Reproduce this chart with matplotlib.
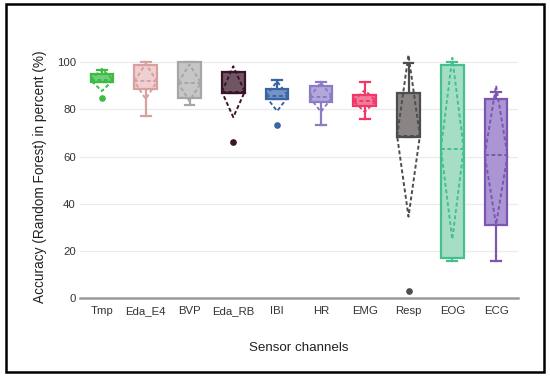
import numpy as np
import matplotlib
matplotlib.use("Agg")
import matplotlib.pyplot as plt
from matplotlib.patches import Rectangle

plt.rcParams['font.family'] = ['Liberation Sans', 'DejaVu Sans']

channels = ['Tmp', 'Eda_E4', 'BVP', 'Eda_RB', 'IBI', 'HR', 'EMG', 'Resp', 'EOG', 'ECG']
q1 = [91.8, 88.8, 84.8, 86.8, 84.5, 83.0, 81.6, 68.4, 16.8, 30.8]
median = [93.5, 93.3, 89.5, 89.8, 87.2, 87.3, 84.3, 85.0, 86.4, 84.0]
q3 = [95.0, 98.8, 100.0, 95.8, 88.7, 90.1, 86.1, 87.1, 98.9, 84.6]
whisker_low = [91.8, 77.4, 81.8, 86.8, 84.5, 73.3, 76.1, 68.4, 15.7, 15.7]
whisker_high = [96.9, 100.0, 100.0, 95.8, 92.5, 91.5, 91.5, 99.9, 100.0, 87.3]
mean = [92.5, 91.9, 91.3, 87.5, 85.6, 85.2, 83.6, 68.8, 63.4, 60.6]
sd = [4.7, 7.5, 7.8, 10.8, 6.3, 6.2, 4.6, 34.3, 38.5, 29.5]
outliers = [[84.7], [], [], [66.2], [73.3], [], [], [3.0], [], []]

line_colors = ['#3dbb45', '#d9a0a0', '#a6a6a6', '#3a1428', '#3a65a5',
               '#8c7cc4', '#f0386b', '#4d4d4d', '#44c08a', '#7b56b3']
fill_colors = ['#6fcf74', '#efd0d0', '#c6c6c6', '#705563', '#7594c4',
               '#b3a7db', '#f47a9a', '#8a8484', '#a6dec5', '#ab95d2']

W, H = 550, 378
fig = plt.figure(figsize=(W / 100, H / 100), dpi=100)
ax = fig.add_axes([80 / W, 1 - 298 / H, 438 / W, (298 - 45.8) / H])

pos = np.arange(len(channels))
bw = 0.52
stats = []
for i in range(len(channels)):
    stats.append(dict(q1=q1[i], med=median[i], q3=q3[i], whislo=whisker_low[i],
                      whishi=whisker_high[i], mean=mean[i], fliers=outliers[i]))

for i in range(len(channels)):
    c = line_colors[i]
    res = ax.bxp([stats[i]], positions=[pos[i]], widths=bw, capwidths=0.22,
                 patch_artist=True, showmeans=False, showfliers=True,
                 boxprops=dict(facecolor=fill_colors[i], edgecolor=c, linewidth=1.6),
                 medianprops=dict(color=c, linewidth=1.6),
                 whiskerprops=dict(color=c, linewidth=1.6),
                 capprops=dict(color=c, linewidth=1.6),
                 flierprops=dict(marker='o', markerfacecolor=c, markeredgecolor=c,
                                 markersize=3.8, linestyle='none'))
    for b in res['boxes']:
        b.set_zorder(3)
    # mean line (dashed) across box
    ax.plot([pos[i] - bw / 2, pos[i] + bw / 2], [mean[i], mean[i]], color=c,
            linestyle=(0, (2.0, 1.3)), linewidth=1.4, zorder=4)
    # sd diamond
    dx = [pos[i] - bw / 2, pos[i], pos[i] + bw / 2, pos[i], pos[i] - bw / 2]
    dy = [mean[i], mean[i] + sd[i], mean[i], mean[i] - sd[i], mean[i]]
    ax.plot(dx, dy, color=c, linestyle=(0, (2.0, 1.3)), linewidth=1.4, zorder=4)

ax.set_xlim(-0.5, len(channels) - 0.5)
ax.set_ylim(0, 107)
ax.set_yticks([0, 20, 40, 60, 80, 100])
ax.set_xticks(pos)
ax.set_xticklabels(channels)
ax.tick_params(axis='both', length=0, labelsize=8.2, colors='#333333')
ax.tick_params(axis='y', pad=3)
ax.tick_params(axis='x', pad=6)
for y in [20, 40, 60, 80, 100]:
    ax.axhline(y, color='#ebebeb', linewidth=0.9, zorder=0)
for s in ['top', 'right', 'left']:
    ax.spines[s].set_visible(False)
ax.spines['bottom'].set_color('#9a9a9a')
ax.spines['bottom'].set_linewidth(1.8)

fig.text(299 / W, 1 - 348 / H, 'Sensor channels', ha='center', va='center',
         fontsize=9.6, color='#222222')
fig.text(40.5 / W, 1 - 177 / H, 'Accuracy (Random Forest) in percent (%)',
         ha='center', va='center', rotation=90, fontsize=9.8, color='#222222')

fig.patches.append(Rectangle((6 / W, 1 - 372 / H), 538 / W, 368 / H,
                             transform=fig.transFigure, fill=False,
                             edgecolor='black', linewidth=1.8))

fig.savefig('out.png', dpi=100)
